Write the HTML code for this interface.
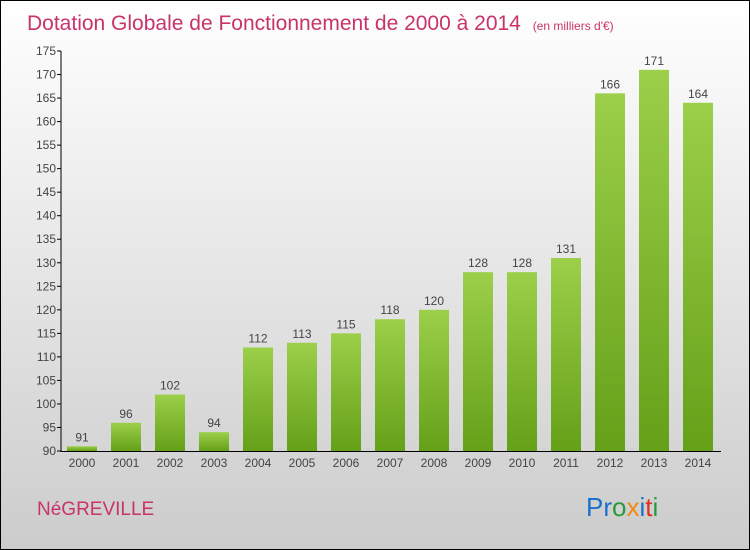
<!DOCTYPE html>
<html><head><meta charset="utf-8"><style>
body{margin:0}
#c{position:relative;width:748px;height:548px;border:1px solid #000;background:linear-gradient(#fff,#ccc);font-family:"Liberation Sans",sans-serif;overflow:hidden}
</style></head><body>
<div id="c">
<svg width="748" height="548" id="s">
<defs><linearGradient id="g" x1="0" y1="0" x2="0" y2="1"><stop offset="0" stop-color="#9ccf4a"/><stop offset="1" stop-color="#65a019"/></linearGradient></defs>
<text x="26" y="29" font-size="21" fill="#c8336a">Dotation Globale de Fonctionnement de 2000 à 2014 <tspan font-size="12" dx="6">(en milliers d'€)</tspan></text>
<text x="36" y="514" font-size="19" fill="#c8336a">NéGREVILLE</text>
<text x="585" y="515" font-size="26"><tspan fill="#1a72c8">Pr</tspan><tspan fill="#2a9a3a">o</tspan><tspan fill="#f08a10">x</tspan><tspan fill="#1a72c8">i</tspan><tspan fill="#e03020">t</tspan><tspan fill="#2a9a3a">i</tspan></text>
<g id="plot"></g>
</svg></div>
<script>
const years=["2000","2001","2002","2003","2004","2005","2006","2007","2008","2009","2010","2011","2012","2013","2014"];
const values=[91,96,102,94,112,113,115,118,120,128,128,131,166,171,164];
const ticks=[90,95,100,105,110,115,120,125,130,135,140,145,150,155,160,165,170,175];
const NS="http://www.w3.org/2000/svg";
const p=document.getElementById('plot');
const y=v=>450-(v-90)*400/85;
const x=i=>81+i*44;
function mk(t,a,txt){const e=document.createElementNS(NS,t);for(const k in a)e.setAttribute(k,a[k]);if(txt!==undefined)e.textContent=txt;p.appendChild(e);return e;}
ticks.forEach(t=>{
 let e=mk('line',{x1:56,x2:60,y1:y(t),y2:y(t),stroke:'#000'});
 
 
 e=mk('text',{x:55,y:y(t)+4,'font-size':12,'text-anchor':'end',fill:'#444'},t);
 
 
});
values.forEach((v,i)=>{
 let e=mk('rect',{x:x(i)-15,y:y(v),width:30,height:450-y(v),fill:'url(#g)'});
 
 
 e=mk('text',{x:x(i),y:y(v)-5,'font-size':12,'text-anchor':'middle',fill:'#444'},v);
 
 
 e=mk('text',{x:x(i),y:466,'font-size':12,'text-anchor':'middle',fill:'#444'},years[i]);
 
 
});
let a=mk('line',{x1:60,x2:60,y1:y(175),y2:451,stroke:'#000'});


a=mk('line',{x1:60,x2:720,y1:450.5,y2:450.5,stroke:'#000'});


</script>
</body></html>
